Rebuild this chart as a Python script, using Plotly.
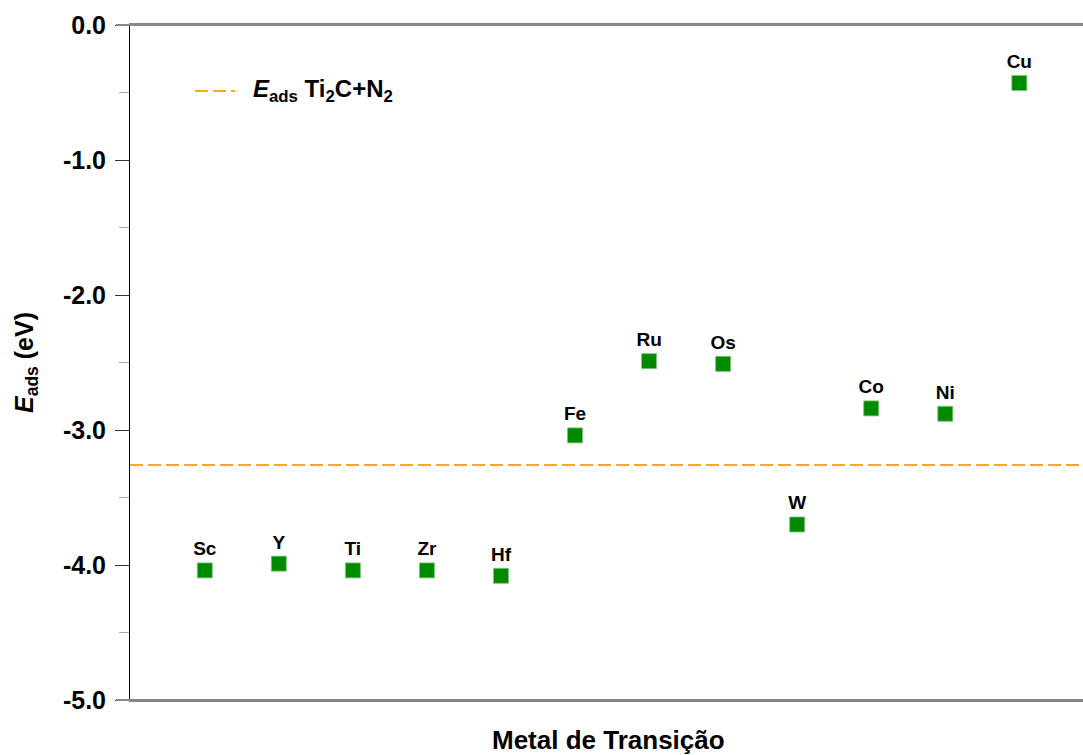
import plotly.graph_objects as go

metals = ["Sc", "Y", "Ti", "Zr", "Hf", "Fe", "Ru", "Os", "W", "Co", "Ni", "Cu"]
positions = [1, 2, 3, 4, 5, 6, 7, 8, 9, 10, 11, 12]
e_ads = [-4.04, -3.99, -4.04, -4.04, -4.08, -3.04, -2.49, -2.51, -3.70, -2.84, -2.88, -0.43]
ref_value = -3.26
ref_name = "<i>E</i><sub>ads</sub> Ti<sub>2</sub>C+N<sub>2</sub>"
y_ticks = [0, -1, -2, -3, -4, -5]

X_MIN, X_MAX = -0.01, 12.86
FONT = "Liberation Sans, Arial, Helvetica, sans-serif"

fig = go.Figure()

fig.add_trace(go.Scatter(
    x=[X_MIN, X_MAX], y=[ref_value, ref_value], mode="lines",
    line=dict(color="#FFA81F", width=2, dash="13px,5px"),
    showlegend=False, hoverinfo="skip"))

fig.add_trace(go.Scatter(
    x=positions, y=e_ads, mode="markers+text", text=[f"<b>{m}</b>" for m in metals],
    textposition="top center", textfont=dict(size=19, color="black", family=FONT),
    marker=dict(symbol="square", size=15, color="#008A00",
                line=dict(color="#7FC47F", width=0.8)),
    showlegend=False))

fig.update_xaxes(range=[X_MIN, X_MAX], showticklabels=False, ticks="",
                 showgrid=False, zeroline=False, showline=True, mirror=True,
                 linecolor="#888888", linewidth=2)
fig.update_yaxes(range=[-5, 0], tickvals=y_ticks,
                 ticktext=[f"<b>{v:.1f}</b>" for v in y_ticks],
                 tickfont=dict(size=25, color="black", family=FONT),
                 ticks="outside", ticklen=14, tickwidth=1, tickcolor="#333",
                 ticklabelstandoff=4,
                 minor=dict(dtick=0.5, ticks="outside", ticklen=10, tickcolor="#aaa", tickwidth=1),
                 showgrid=False, zeroline=False, showline=True, linecolor="black", linewidth=1,
                 title=dict(text="<b><i>E</i><sub>ads</sub> (eV)</b>", font=dict(size=25, color="black", family=FONT), standoff=22))

for yp in (0, 1):
    fig.add_shape(type="line", xref="paper", yref="paper", x0=-14/953, x1=1, y0=yp, y1=yp,
                  line=dict(color="#888888", width=2))

# legend
fig.add_shape(type="line", xref="paper", yref="paper", x0=(195-130)/953, x1=(235-130)/953,
              y0=1-(91-25)/675, y1=1-(91-25)/675, line=dict(color="#FFA81F", width=2, dash="13px,5px"))
fig.add_annotation(xref="paper", yref="paper", x=(251-130)/953, y=1-(91-25)/675,
                   xanchor="left", yanchor="middle", showarrow=False,
                   text=f"<b>{ref_name}</b>", font=dict(size=24, color="black", family=FONT))

fig.add_annotation(xref="paper", yref="paper", x=0.502, y=-(740-700)/675,
                   xanchor="center", yanchor="middle", showarrow=False,
                   text="<b>Metal de Transição</b>", font=dict(size=26, color="black", family=FONT))

fig.update_layout(width=1083, height=755, margin=dict(l=130, r=0, t=25, b=55),
                  plot_bgcolor="white", paper_bgcolor="white", font=dict(family=FONT))

fig.write_html("out.html", config={"displayModeBar": False},
               post_script="document.body.style.margin='0';document.body.style.overflow='hidden';")
